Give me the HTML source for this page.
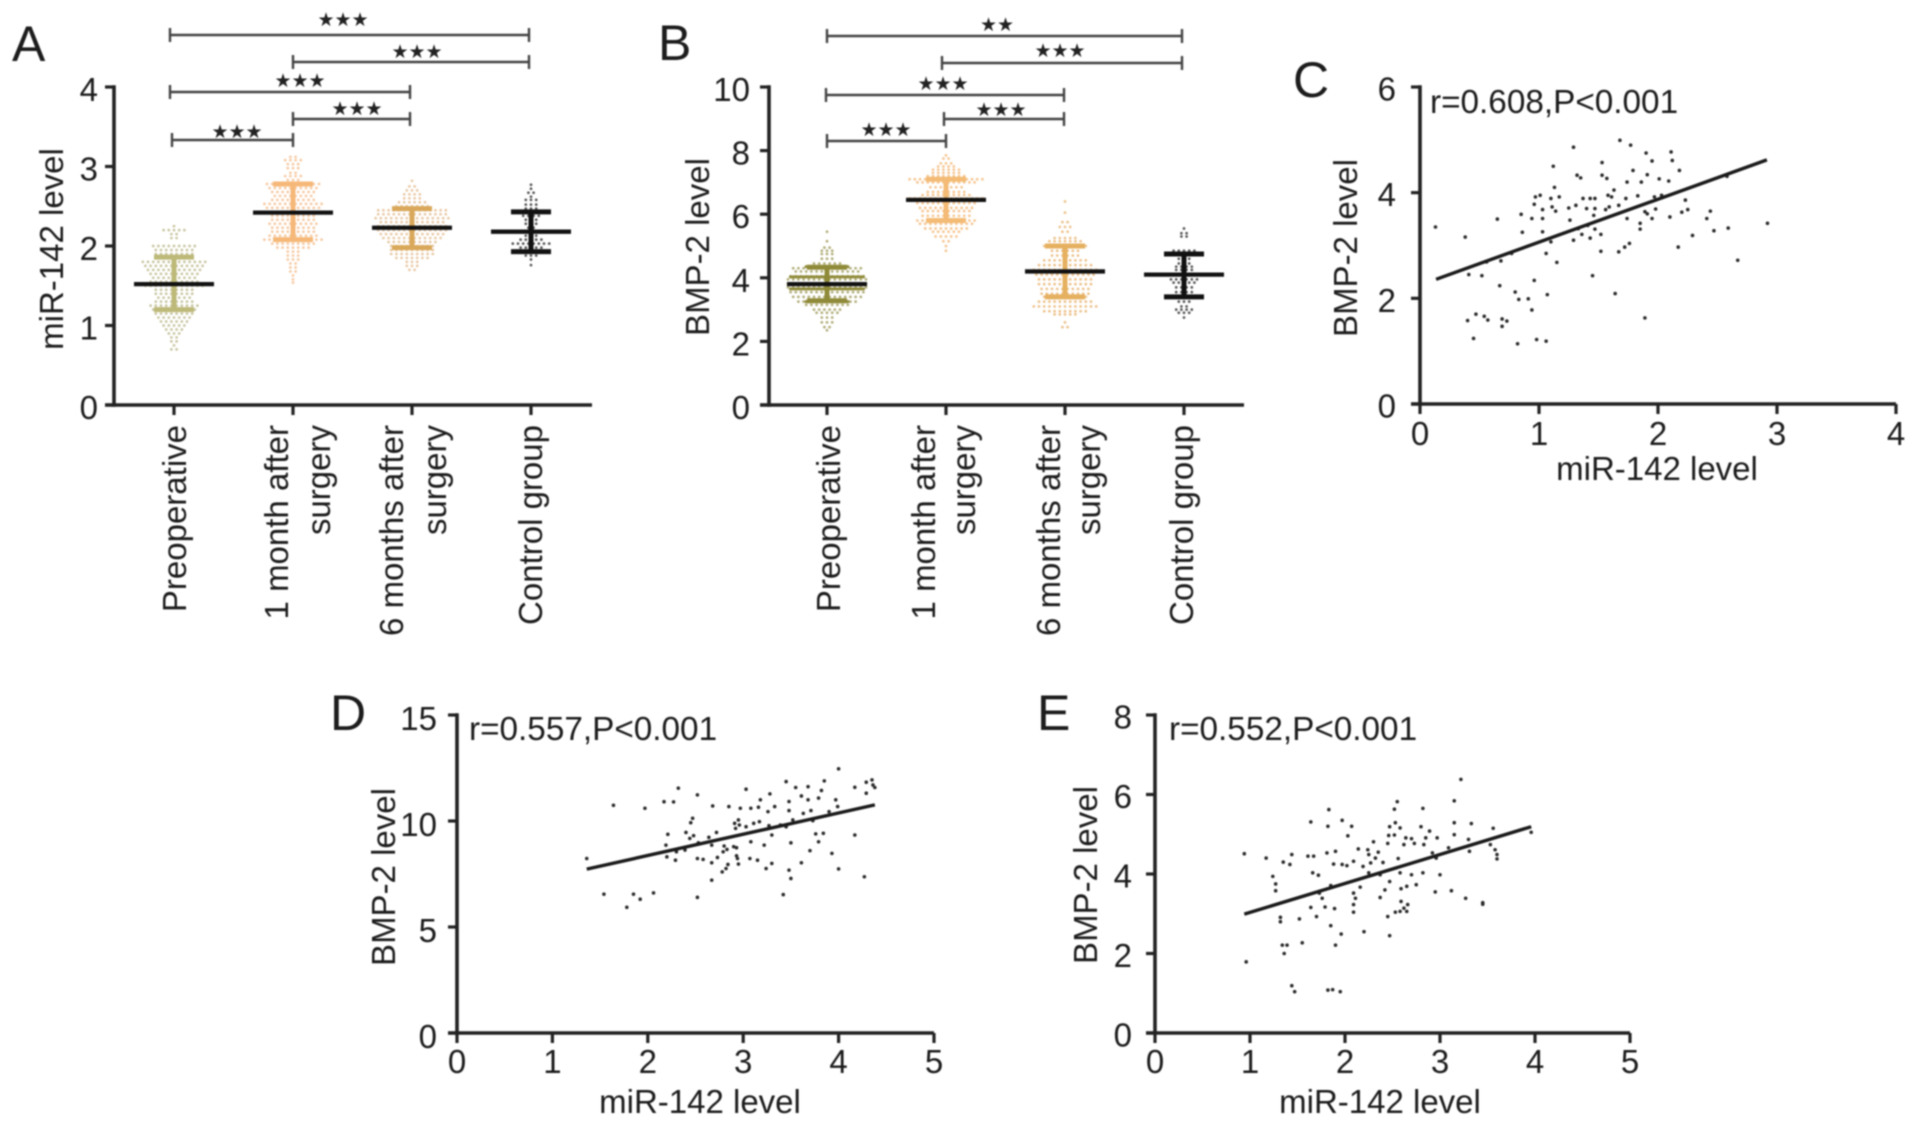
<!DOCTYPE html>
<html lang="en">
<head>
<meta charset="utf-8">
<title>miR-142 and BMP-2 levels</title>
<style>
html,body{margin:0;padding:0;background:#fff;}
body{width:1913px;height:1126px;overflow:hidden;}
svg{display:block;filter:blur(0.7px);}
text{font-family:"Liberation Sans",Arial,sans-serif;fill:#1c1c1c;}
.star{font-family:"DejaVu Sans",sans-serif;font-size:19px;fill:#222;}
</style>
</head>
<body>
<svg id="fig" xmlns="http://www.w3.org/2000/svg" width="1913" height="1126" viewBox="0 0 1913 1126"></svg>
<script>
/* ---------- shared categories ---------- */
const categoryFirstLines = ['Preoperative','1 month after','6 months after','Control group'];
const categorySecondLines = ['','surgery','surgery',''];

/* ---------- panel A: swarm values (value level and number of dots at that level) ---------- */
const aYTicks = [0,1,2,3,4];
const aPreopLevels = [2.25,2.2,2.15,2.1,2.0,1.95,1.9,1.85,1.8,1.75,1.7,1.65,1.6,1.55,1.5,1.45,1.4,1.35,1.3,1.25,1.2,1.15,1.1,1.05,1.0,0.95,0.9,0.85,0.8,0.75,0.7];
const aPreopCounts = [1,5,2,2,9,8,8,7,13,12,11,10,9,10,12,8,8,7,8,10,9,8,7,6,5,4,3,2,2,1,2];
const aMonth1Levels = [3.12,3.08,3.03,2.98,2.92,2.88,2.83,2.78,2.73,2.68,2.63,2.58,2.53,2.48,2.43,2.38,2.33,2.28,2.23,2.18,2.13,2.08,2.03,1.98,1.93,1.88,1.83,1.78,1.73,1.68,1.63,1.58,1.54];
const aMonth1Counts = [2,4,3,3,2,4,3,11,10,9,8,9,12,11,10,9,9,10,9,9,10,12,9,7,3,3,3,2,2,2,1,1,1];
const aMonth6Levels = [2.82,2.75,2.7,2.65,2.6,2.55,2.5,2.45,2.4,2.35,2.3,2.25,2.2,2.15,2.1,2.05,2.0,1.95,1.9,1.85,1.8,1.75,1.7];
const aMonth6Counts = [1,2,3,4,4,6,7,14,14,15,13,14,14,13,12,10,9,9,9,7,3,3,2];
const aControlLevels = [2.77,2.72,2.67,2.62,2.58,2.52,2.47,2.43,2.38,2.33,2.28,2.23,2.18,2.13,2.08,2.03,1.98,1.93,1.88,1.83,1.76];
const aControlCounts = [1,1,2,1,3,3,3,6,4,3,3,2,3,3,5,8,5,7,3,1,1];
const aMeans = [1.52,2.42,2.23,2.18];
const aUpper = [1.86,2.78,2.47,2.43];
const aLower = [1.2,2.08,1.98,1.93];
const aBracketFrom = [0,1,0,1,0];
const aBracketTo = [3,3,2,2,1];
const aBracketStars = ['★★★','★★★','★★★','★★★','★★★'];

/* ---------- panel B ---------- */
const bYTicks = [0,2,4,6,8,10];
const bPreopLevels = [5.45,5.15,4.95,4.85,4.75,4.6,4.45,4.3,4.2,4.05,3.95,3.8,3.7,3.55,3.4,3.25,3.15,3.0,2.9,2.75,2.6,2.45,2.35];
const bPreopCounts = [1,1,2,3,3,3,6,14,13,15,16,16,16,15,14,12,9,6,5,3,3,2,1];
const bPreopTiedLevels = [4.35,4.03,3.65,3.25];
const bPreopTiedCounts = [17,29,29,17];
const bMonth1Levels = [7.85,7.75,7.6,7.5,7.4,7.3,7.2,7.1,7.0,6.85,6.7,6.6,6.5,6.35,6.2,6.1,5.95,5.8,5.7,5.55,5.45,5.3,5.15,5.0,4.85];
const bMonth1Counts = [1,2,3,4,6,6,8,15,12,7,8,10,15,12,11,10,10,12,11,9,6,5,2,1,1];
const bMonth6Levels = [6.4,6.05,5.75,5.6,5.45,5.25,5.15,5.0,4.85,4.7,4.55,4.4,4.25,4.1,3.95,3.8,3.65,3.5,3.4,3.25,3.1,2.95,2.85,2.6,2.45];
const bMonth6Counts = [1,1,2,3,2,5,7,9,6,6,9,11,13,12,11,11,10,10,9,11,13,9,5,1,2];
const bControlLevels = [5.55,5.4,5.3,4.85,4.75,4.6,4.45,4.35,4.25,4.1,3.95,3.85,3.7,3.55,3.4,3.25,3.1,3.0,2.9,2.75];
const bControlCounts = [1,2,2,5,7,3,3,4,4,7,6,5,4,4,8,3,2,4,3,1];
const bMeans = [3.8,6.45,4.2,4.1];
const bUpper = [4.33,7.1,5.0,4.75];
const bLower = [3.28,5.8,3.4,3.4];
const bBracketFrom = [0,1,0,1,0];
const bBracketTo = [3,3,2,2,1];
const bBracketStars = ['★★','★★★','★★★','★★★','★★★'];

/* ---------- panel C ---------- */
const cXTicks = [0,1,2,3,4];
const cYTicks = [0,2,4,6];
const cX = [0.13,0.38,0.41,0.52,0.56,0.68,0.65,0.77,0.85,0.86,0.94,0.96,0.67,0.80,0.83,0.91,0.94,1.07,0.40,0.47,0.54,0.57,0.69,0.73,0.69,0.45,0.82,0.98,1.06,0.97,1.01,0.96,1.03,1.03,1.03,1.06,1.10,1.15,1.12,1.13,1.10,1.17,1.11,1.14,1.25,1.26,1.29,1.32,1.35,1.31,1.29,1.33,1.36,1.37,1.40,1.43,1.43,1.41,1.45,1.47,1.46,1.47,1.47,1.52,1.52,1.53,1.53,1.57,1.56,1.59,1.58,1.63,1.61,1.67,1.68,1.67,1.72,1.76,1.74,1.74,1.73,1.77,1.79,1.83,1.64,1.85,1.85,1.86,1.90,1.91,1.89,1.91,1.89,1.95,1.95,1.98,1.97,2.01,2.03,2.09,2.10,2.11,2.12,2.18,2.17,2.20,2.23,2.25,2.29,2.41,2.44,2.47,2.58,2.59,2.67,2.92];
const cY = [3.35,3.16,2.45,2.43,2.69,2.71,3.50,2.85,3.59,3.25,3.51,2.34,2.24,2.12,1.98,1.99,1.78,2.07,1.58,1.70,1.66,1.59,1.61,1.57,1.47,1.24,1.14,1.22,1.19,3.92,3.95,3.78,3.68,3.51,3.26,2.85,3.07,2.68,4.50,4.10,3.89,3.92,3.73,3.65,3.71,3.48,4.86,4.33,4.28,3.76,3.10,3.32,3.21,3.89,3.70,3.89,3.14,3.38,2.43,3.89,3.57,3.70,3.31,3.21,2.89,4.57,4.33,4.27,3.68,3.73,3.95,4.05,3.92,3.76,4.99,2.88,2.97,3.04,3.51,4.20,3.89,4.90,4.42,3.94,2.09,3.42,3.31,4.20,4.75,4.34,3.64,3.60,1.63,4.60,3.51,3.69,3.92,4.26,3.95,4.22,3.54,4.77,4.61,4.42,2.97,3.63,3.86,3.68,3.19,3.51,3.65,3.28,4.31,3.33,2.72,3.42];
const cFitX = [0.135,2.915];
const cFitY = [2.36,4.62];

/* ---------- panel D ---------- */
const dXTicks = [0,1,2,3,4,5];
const dYTicks = [0,5,10,15];
const dX = [1.36,1.54,1.64,1.85,1.92,2.06,1.78,1.97,2.17,2.27,2.32,2.21,2.19,2.20,2.29,2.30,2.39,2.40,2.44,2.48,2.45,2.47,2.52,2.52,2.58,2.52,2.53,2.64,2.67,2.67,2.68,2.72,2.73,2.67,2.79,2.80,2.83,2.78,2.82,2.85,2.84,2.90,2.93,2.93,2.94,2.95,2.91,2.95,2.96,2.92,2.97,3.03,3.03,3.08,3.07,3.08,3.11,3.15,3.17,3.18,3.16,3.22,3.24,3.26,3.28,3.27,3.30,3.30,3.33,3.39,3.42,3.45,3.48,3.48,3.48,3.50,3.50,3.45,3.52,3.55,3.61,3.61,3.63,3.68,3.68,3.70,3.71,3.73,3.76,3.79,3.79,3.82,3.84,3.85,3.90,3.93,3.97,3.99,4.0,4.0,4.17,4.17,4.27,4.29,4.29,4.35,4.36,4.38];
const dY = [8.23,6.55,10.74,6.55,6.31,6.61,5.93,10.6,10.91,10.9,11.55,9.37,8.86,8.31,8.15,8.55,8.63,9.46,9.18,9.31,9.92,10.13,11.23,8.23,8.19,6.4,8.97,9.23,8.03,8.86,10.71,9.46,8.28,7.21,8.55,8.82,8.66,7.60,7.76,10.68,7.95,8.79,8.74,8.36,8.23,7.97,9.89,10.05,9.81,9.65,10.6,9.73,11.5,10.6,8.23,9.02,9.89,8.15,9.97,11.0,10.65,8.86,7.76,10.44,11.28,9.78,8.0,9.34,10.68,9.81,6.53,11.86,10.49,10.92,7.68,7.29,8.97,9.73,10.05,11.58,11.18,8.03,10.36,11.62,11.0,8.6,10.49,10.02,9.39,11.08,9.02,11.44,9.42,11.89,10.44,8.47,11.0,10.68,12.46,7.74,11.59,9.34,7.37,11.31,11.83,11.94,11.7,11.58];
const dFitX = [1.36,4.38];
const dFitY = [7.73,10.76];

/* ---------- panel E ---------- */
const eXTicks = [0,1,2,3,4,5];
const eYTicks = [0,2,4,6,8];
const eX = [0.94,0.96,1.17,1.24,1.27,1.27,1.32,1.32,1.35,1.42,1.44,1.34,1.39,1.36,1.44,1.47,1.52,1.55,1.64,1.64,1.61,1.67,1.66,1.72,1.70,1.73,1.76,1.79,1.81,1.82,1.83,1.85,1.85,1.82,1.87,1.88,1.90,1.89,1.90,1.95,1.96,1.97,1.97,2.02,2.03,2.07,2.09,2.09,2.11,2.09,2.09,2.14,2.16,2.20,2.19,2.24,2.25,2.25,2.27,2.30,2.32,2.35,2.37,2.37,2.40,2.42,2.45,2.45,2.46,2.47,2.47,2.47,2.52,2.52,2.55,2.53,2.58,2.56,2.58,2.53,2.58,2.59,2.59,2.62,2.62,2.64,2.65,2.66,2.65,2.70,2.70,2.73,2.75,2.80,2.82,2.82,2.83,2.85,2.89,2.92,2.95,2.96,2.97,3.0,3.09,3.12,3.15,3.15,3.15,3.22,3.27,3.30,3.31,3.33,3.45,3.45,3.56,3.53,3.58,3.60,3.60,3.96];
const eY = [4.51,1.79,4.40,3.94,3.75,3.58,2.91,2.80,4.30,4.24,4.49,2.21,2.21,2.0,1.19,1.04,2.87,2.27,3.16,5.31,4.45,4.45,4.03,3.97,2.93,3.52,3.39,3.17,4.53,5.20,5.62,3.71,2.70,1.08,1.09,4.25,4.57,3.13,2.21,1.04,2.49,5.35,4.24,4.21,4.96,5.20,4.32,3.52,3.39,3.23,3.04,4.63,3.67,2.55,4.19,4.61,4.49,4.03,4.28,4.81,4.40,4.55,3.41,3.98,4.29,3.60,2.93,4.77,4.97,5.19,3.81,2.45,4.98,5.63,5.82,5.29,5.16,4.39,4.03,3.04,3.06,3.63,3.31,3.14,4.74,4.91,3.69,3.23,3.06,4.89,3.98,4.77,3.73,5.19,5.65,4.03,4.74,4.91,5.08,4.53,3.55,4.40,4.91,3.98,4.66,3.58,5.84,5.29,4.99,6.38,3.39,4.87,4.57,5.27,3.28,3.24,5.15,4.74,4.61,4.49,4.38,5.05];
const eFitX = [0.94,3.96];
const eFitY = [2.99,5.19];

/* ---------- drawing helpers ---------- */
const NS = 'http://www.w3.org/2000/svg';
const fig = document.getElementById('fig');
const INK = '#222';

function mk(tag, props, parent) {
  const node = document.createElementNS(NS, tag);
  for (const k in props) node.setAttribute(k, props[k]);
  parent.appendChild(node);
  return node;
}
function scaleLinear(d0, d1, r0, r1) {
  return v => r0 + (v - d0) * (r1 - r0) / (d1 - d0);
}

function drawYAxis(g, L, ticks, y, title) {
  const axis = mk('line', {x1:L.axisX, x2:L.axisX, y1:y(ticks[ticks.length-1]), y2:y(ticks[0]), stroke:INK, 'stroke-width':3.6, 'stroke-linecap':'square'}, g);
  
  
  ticks.forEach(t => {
    const tick = mk('line', {x1:L.axisX-L.tickLen, x2:L.axisX, y1:y(t), y2:y(t), stroke:INK, 'stroke-width':3.2}, g);
    
    
    const lab = mk('text', {x:L.yLabelRight, y:y(t)+L.yLabelDy, 'text-anchor':'end', 'font-size':L.tickFont}, g);
    lab.textContent = t;
    
    
  });
  const ttl = mk('text', {transform:`translate(${L.yTitleX},${L.yTitleY}) rotate(-90)`, 'text-anchor':'middle', 'font-size':33}, g);
  ttl.textContent = title;
  
  
}

function panelLetter(g, text, x, y) {
  const t = mk('text', {x:x, y:y, 'font-size':50}, g);
  t.textContent = text;
  
  
}

function drawSwarmPanel(name, L, yTicks, groups, means, upper, lower, bFrom, bTo, bStars, yTitle, letter) {
  const g = mk('g', {}, fig);
  
  
  const y = scaleLinear(yTicks[0], yTicks[yTicks.length-1], L.y0, L.yTop);
  const xc = i => L.catX[i];

  panelLetter(g, letter, L.letterX, L.letterY);
  drawYAxis(g, L, yTicks, y, yTitle);

  const xAxis = mk('line', {x1:L.axisX-L.tickLen, x2:L.axisEnd, y1:L.y0, y2:L.y0, stroke:INK, 'stroke-width':3.6}, g);
  
  

  groups.forEach((grp, i) => {
    const tick = mk('line', {x1:xc(i), x2:xc(i), y1:L.y0, y2:L.y0+10, stroke:INK, 'stroke-width':3.2}, g);
    
    

    const l1 = mk('text', {transform:`translate(${xc(i)+L.line1Dx[i]},425) rotate(-90)`, 'text-anchor':'end', 'font-size':33}, g);
    l1.textContent = categoryFirstLines[i];
    
    
    if (categorySecondLines[i]) {
      const l2 = mk('text', {transform:`translate(${xc(i)+L.line2Dx[i]},425) rotate(-90)`, 'text-anchor':'end', 'font-size':33}, g);
      l2.textContent = categorySecondLines[i];
      
      
    }

    const swarm = mk('g', {}, g);
    
    
    grp.levels.forEach((v, r) => {
      const n = grp.counts[r];
      for (let k = 0; k < n; k++) {
        const dot = mk('circle', {cx:xc(i)+(k-(n-1)/2)*5.2, cy:y(v), r:1.35, fill:grp.dot}, swarm);
        
        
      }
    });
    (grp.tiedLevels || []).forEach((v, r) => {
      const n = grp.tiedCounts[r];
      for (let k = 0; k < n; k++) {
        const dot = mk('circle', {cx:xc(i)+(k-(n-1)/2)*2.6, cy:y(v), r:1.6, fill:grp.bar}, swarm);
        
        
      }
    });

    const stem = mk('line', {x1:xc(i), x2:xc(i), y1:y(upper[i]), y2:y(lower[i]), stroke:grp.bar, 'stroke-width':5}, g);
    
    
    const capHi = mk('line', {x1:xc(i)-20, x2:xc(i)+20, y1:y(upper[i]), y2:y(upper[i]), stroke:grp.bar, 'stroke-width':5}, g);
    
    
    const capLo = mk('line', {x1:xc(i)-20, x2:xc(i)+20, y1:y(lower[i]), y2:y(lower[i]), stroke:grp.bar, 'stroke-width':5}, g);
    
    
    const meanLine = mk('line', {x1:xc(i)-40, x2:xc(i)+40, y1:y(means[i]), y2:y(means[i]), stroke:'#111', 'stroke-width':4.3}, g);
    
    
  });

  bFrom.forEach((from, b) => {
    const x1 = xc(from)+L.bracketDx1[b], x2 = xc(bTo[b])+L.bracketDx2[b], by = L.bracketY[b];
    const br = mk('path', {d:`M${x1} ${by-7}V${by+7}M${x1} ${by}H${x2}M${x2} ${by-7}V${by+7}`, fill:'none', stroke:'#444', 'stroke-width':2.4}, g);
    
    
    const st = mk('text', {x:L.starX[b], y:L.starY[b], 'text-anchor':'middle', class:'star'}, g);
    st.textContent = bStars[b];
    
    
  });
}

function drawScatterPanel(name, L, xTicks, yTicks, xs, ys, fitX, fitY, note, letter) {
  const g = mk('g', {}, fig);
  
  
  const x = scaleLinear(xTicks[0], xTicks[xTicks.length-1], L.axisX, L.axisEnd);
  const y = scaleLinear(yTicks[0], yTicks[yTicks.length-1], L.y0, L.yTop);

  panelLetter(g, letter, L.letterX, L.letterY);
  drawYAxis(g, L, yTicks, y, 'BMP-2 level');

  const xAxis = mk('line', {x1:L.axisX-L.tickLen, x2:L.axisEnd, y1:L.y0, y2:L.y0, stroke:INK, 'stroke-width':3.6}, g);
  
  

  xTicks.forEach(t => {
    const tick = mk('line', {x1:x(t), x2:x(t), y1:L.y0, y2:L.y0+10, stroke:INK, 'stroke-width':3.2}, g);
    
    
    const lab = mk('text', {x:x(t), y:L.xLabelY, 'text-anchor':'middle', 'font-size':L.tickFont}, g);
    lab.textContent = t;
    
    
  });

  const xTitle = mk('text', {x:L.xTitleX, y:L.xTitleY, 'text-anchor':'middle', 'font-size':33}, g);
  xTitle.textContent = 'miR-142 level';
  
  

  const ann = mk('text', {x:L.noteX, y:L.noteY, 'font-size':33.3}, g);
  ann.textContent = note;
  
  

  xs.forEach((v, i) => {
    const pt = mk('circle', {cx:x(v), cy:y(ys[i]), r:1.8, fill:'#2a2a2a'}, g);
    
    
  });

  const fit = mk('line', {x1:x(fitX[0]), y1:y(fitY[0]), x2:x(fitX[1]), y2:y(fitY[1]), stroke:'#1a1a1a', 'stroke-width':3.4}, g);
  
  
}

/* ---------- render panels ---------- */
drawSwarmPanel('panel-a-mir-142-swarm',
  {axisX:114, axisEnd:592, y0:405, yTop:87, tickLen:9, tickFont:33, yLabelRight:98, yLabelDy:14,
   yTitleX:63, yTitleY:249, letterX:12, letterY:61,
   catX:[174,293,412,531], line1Dx:[12,-5,-9,11], line2Dx:[0,37,34,0],
   bracketY:[35,62,92,119,140], bracketDx1:[-4,0,-4,0,-2], bracketDx2:[-2,-2,-2,-2,0],
   starX:[343,417,300,357,237], starY:[26,58,87,115,138]},
  aYTicks,
  [{levels:aPreopLevels, counts:aPreopCounts, dot:'#c8c5a0', bar:'#bdb978'},
   {levels:aMonth1Levels, counts:aMonth1Counts, dot:'#f6c8a0', bar:'#f5b878'},
   {levels:aMonth6Levels, counts:aMonth6Counts, dot:'#e8c8a4', bar:'#d9a85a'},
   {levels:aControlLevels, counts:aControlCounts, dot:'#555', bar:'#111'}],
  aMeans, aUpper, aLower, aBracketFrom, aBracketTo, aBracketStars, 'miR-142 level', 'A');

drawSwarmPanel('panel-b-bmp-2-swarm',
  {axisX:769, axisEnd:1244, y0:405, yTop:87, tickLen:9, tickFont:33, yLabelRight:750, yLabelDy:14,
   yTitleX:709, yTitleY:247, letterX:658, letterY:60,
   catX:[827,946,1065,1184], line1Dx:[13,-11,-5,9], line2Dx:[0,29,35,0],
   bracketY:[36,63,95,119,141], bracketDx1:[0,-4,-1,-2,0], bracketDx2:[-2,-2,-1,-1,0],
   starX:[997,1060,943,1001,886], starY:[31,57,90,116,136]},
  bYTicks,
  [{levels:bPreopLevels, counts:bPreopCounts, tiedLevels:bPreopTiedLevels, tiedCounts:bPreopTiedCounts, dot:'#b0ad78', bar:'#8f8a38'},
   {levels:bMonth1Levels, counts:bMonth1Counts, dot:'#f5c48e', bar:'#f3bb75'},
   {levels:bMonth6Levels, counts:bMonth6Counts, dot:'#ecc088', bar:'#e5b05f'},
   {levels:bControlLevels, counts:bControlCounts, dot:'#555', bar:'#111'}],
  bMeans, bUpper, bLower, bBracketFrom, bBracketTo, bBracketStars, 'BMP-2 level', 'B');

drawScatterPanel('panel-c-correlation',
  {axisX:1420, axisEnd:1896, y0:404, yTop:87, tickLen:9, tickFont:33, yLabelRight:1396, yLabelDy:13.5,
   yTitleX:1357, yTitleY:248, letterX:1293, letterY:97, xLabelY:445, xTitleX:1657, xTitleY:480, noteX:1430, noteY:113},
  cXTicks, cYTicks, cX, cY, cFitX, cFitY, 'r=0.608,P<0.001', 'C');

drawScatterPanel('panel-d-correlation',
  {axisX:457, axisEnd:934, y0:1033, yTop:715, tickLen:9, tickFont:33, yLabelRight:437, yLabelDy:15,
   yTitleX:395, yTitleY:877, letterX:330, letterY:730, xLabelY:1073, xTitleX:700, xTitleY:1113, noteX:469, noteY:740},
  dXTicks, dYTicks, dX, dY, dFitX, dFitY, 'r=0.557,P<0.001', 'D');

drawScatterPanel('panel-e-correlation',
  {axisX:1155, axisEnd:1630, y0:1033, yTop:715, tickLen:9, tickFont:33, yLabelRight:1132, yLabelDy:13.5,
   yTitleX:1097, yTitleY:875, letterX:1037, letterY:730, xLabelY:1073, xTitleX:1380, xTitleY:1113, noteX:1169, noteY:740},
  eXTicks, eYTicks, eX, eY, eFitX, eFitY, 'r=0.552,P<0.001', 'E');
</script>
</body>
</html>
